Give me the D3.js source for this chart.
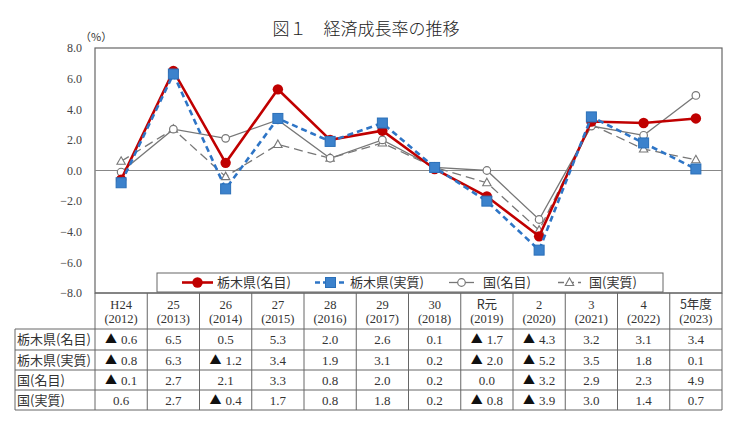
<!DOCTYPE html>
<html>
<head>
<meta charset="utf-8">
<script src="https://cdn.jsdelivr.net/npm/d3@7"></script>
<style>
  body { margin: 0; background: #fff; }
  svg text { font-family: "Liberation Serif", "Noto Sans CJK JP", serif; fill: #333; }
  .jp { font-family: "Noto Sans CJK JP", sans-serif; }
</style>
</head>
<body>
<div id="chart"></div>
<script>
// Fiscal years (column headers: era label / western year)
const eraLabels = ["H24", "25", "26", "27", "28", "29", "30", "R元", "2", "3", "4", "5年度"];
const yearLabels = ["2012", "2013", "2014", "2015", "2016", "2017", "2018", "2019", "2020", "2021", "2022", "2023"];

// Growth rates (%)
const tochigiNominal = [-0.6, 6.5, 0.5, 5.3, 2.0, 2.6, 0.1, -1.7, -4.3, 3.2, 3.1, 3.4];
const tochigiReal    = [-0.8, 6.3, -1.2, 3.4, 1.9, 3.1, 0.2, -2.0, -5.2, 3.5, 1.8, 0.1];
const japanNominal   = [-0.1, 2.7, 2.1, 3.3, 0.8, 2.0, 0.2, 0.0, -3.2, 2.9, 2.3, 4.9];
const japanReal      = [0.6, 2.7, -0.4, 1.7, 0.8, 1.8, 0.2, -0.8, -3.9, 3.0, 1.4, 0.7];

const seriesNames = ["栃木県(名目)", "栃木県(実質)", "国(名目)", "国(実質)"];
const yTicks = [-8, -6, -4, -2, 0, 2, 4, 6, 8];

const width = 752, height = 426;
const plot = { left: 95, right: 722, top: 48, bottom: 293 };

const svg = d3.select("#chart").append("svg")
    .attr("width", width)
    .attr("height", height);

const x = d3.scaleBand()
    .domain(eraLabels)
    .range([plot.left, plot.right]);
const cx = i => x(eraLabels[i]) + x.bandwidth() / 2;

const y = d3.scaleLinear()
    .domain([-8, 8])
    .range([plot.bottom, plot.top]);

// Title
svg.append("text")
    .attr("class", "jp")
    .attr("x", 366)
    .attr("y", 35)
    .attr("text-anchor", "middle")
    .style("font-size", "17px")
    .style("font-weight", "300")
    .style("fill", "#222")
    .text("図１　経済成長率の推移");

svg.append("text")
    .attr("class", "jp")
    .attr("x", 80)
    .attr("y", 41)
    .style("font-size", "11px")
    .text("（%）");

// Y axis
const yAxis = svg.append("g")
    .attr("transform", `translate(${plot.left},0)`)
    .call(d3.axisLeft(y).tickValues(yTicks).tickSize(0).tickPadding(13).tickFormat(d3.format(".1f")));
yAxis.select(".domain").remove();
yAxis.selectAll("text")
    .style("font-size", "12px")
    .style("fill", "#444")
    .style("font-family", "Liberation Serif, serif");

// Plot frame and zero line
svg.append("rect")
    .attr("x", plot.left)
    .attr("y", plot.top)
    .attr("width", plot.right - plot.left)
    .attr("height", plot.bottom - plot.top)
    .attr("fill", "none")
    .attr("stroke", "#666")
    .attr("stroke-width", 1.2);

svg.append("line")
    .attr("x1", plot.left).attr("x2", plot.right)
    .attr("y1", y(0)).attr("y2", y(0))
    .attr("stroke", "#888")
    .attr("stroke-width", 1);

// Series styling
const styles = [
    { data: tochigiNominal, color: "#c00000", width: 2.6, dash: null, marker: "circle" },
    { data: tochigiReal, color: "#2e75c6", width: 2.6, dash: "6,4", marker: "square" },
    { data: japanNominal, color: "#777", width: 1.3, dash: null, marker: "ocircle" },
    { data: japanReal, color: "#777", width: 1.3, dash: "9,5", marker: "triangle" }
];

function drawMarker(g, type, color, px, py) {
    if (type === "circle") {
        g.append("circle").attr("cx", px).attr("cy", py).attr("r", 5.2)
            .attr("fill", color);
    } else if (type === "square") {
        g.append("rect").attr("x", px - 5).attr("y", py - 5).attr("width", 10).attr("height", 10)
            .attr("fill", "#3c82cc").attr("stroke", "#2a6fb8").attr("stroke-width", 1);
    } else if (type === "ocircle") {
        g.append("circle").attr("cx", px).attr("cy", py).attr("r", 3.8)
            .attr("fill", "#fff").attr("stroke", color).attr("stroke-width", 1.2);
    } else {
        g.append("path")
            .attr("d", `M${px},${py - 4.5}L${px + 4.2},${py + 3}L${px - 4.2},${py + 3}Z`)
            .attr("fill", "#fff").attr("stroke", color).attr("stroke-width", 1.1);
    }
}

const line = d3.line()
    .x((d, i) => cx(i))
    .y(d => y(d));

const drawOrder = [3, 2, 0, 1];
drawOrder.forEach(k => {
    const s = styles[k];
    const g = svg.append("g");
    g.append("path")
        .datum(s.data)
        .attr("d", line)
        .attr("fill", "none")
        .attr("stroke", s.color)
        .attr("stroke-width", s.width)
        .attr("stroke-dasharray", s.dash);
    s.data.forEach((v, i) => drawMarker(g, s.marker, s.color, cx(i), y(v)));
});

// Legend
const legend = svg.append("g");
legend.append("rect")
    .attr("x", 157).attr("y", 273)
    .attr("width", 506).attr("height", 19)
    .attr("fill", "#fff")
    .attr("stroke", "#666")
    .attr("stroke-width", 1);

const legendItems = [
    { x1: 182, x2: 213, tx: 217 },
    { x1: 315, x2: 346, tx: 350 },
    { x1: 449, x2: 474, tx: 483 },
    { x1: 558, x2: 581, tx: 589 }
];
legendItems.forEach((it, k) => {
    const s = styles[k];
    const ly = 282.5;
    legend.append("line")
        .attr("x1", it.x1).attr("x2", it.x2)
        .attr("y1", ly).attr("y2", ly)
        .attr("stroke", s.color)
        .attr("stroke-width", s.width)
        .attr("stroke-dasharray", k === 1 ? "5,3" : (k === 3 ? "6,4" : null));
    drawMarker(legend, s.marker, s.color, (it.x1 + it.x2) / 2, ly);
    legend.append("text")
        .attr("class", "jp")
        .attr("x", it.tx)
        .attr("y", ly + 4.5)
        .style("font-size", "13px")
        .style("fill", "#333")
        .text(seriesNames[k]);
});

// Data table
const table = svg.append("g");
const rowTops = [293, 329, 350, 370, 390, 410];
const labelLeft = 15;
const lineColor = "#666";

// horizontal lines
rowTops.forEach((ry, r) => {
    table.append("line")
        .attr("x1", r === 0 ? plot.left : labelLeft).attr("x2", plot.right)
        .attr("y1", ry).attr("y2", ry)
        .attr("stroke", lineColor).attr("stroke-width", 1);
});
// vertical lines
table.append("line")
    .attr("x1", labelLeft).attr("x2", labelLeft)
    .attr("y1", rowTops[1]).attr("y2", rowTops[5])
    .attr("stroke", lineColor);
eraLabels.forEach((c, i) => {
    table.append("line")
        .attr("x1", x(c)).attr("x2", x(c))
        .attr("y1", rowTops[0]).attr("y2", rowTops[5])
        .attr("stroke", lineColor);
});
table.append("line")
    .attr("x1", plot.right).attr("x2", plot.right)
    .attr("y1", rowTops[0]).attr("y2", rowTops[5])
    .attr("stroke", lineColor);

// header
eraLabels.forEach((c, i) => {
    table.append("text")
        .attr("class", /[元年度]/.test(c) ? "jp" : null)
        .attr("x", cx(i)).attr("y", 309)
        .attr("text-anchor", "middle")
        .style("font-size", "12.5px")
        .text(c);
    table.append("text")
        .attr("x", cx(i)).attr("y", 323)
        .attr("text-anchor", "middle")
        .style("font-size", "12.5px")
        .text(`(${yearLabels[i]})`);
});

// rows (negative values shown with ▲)
styles.forEach((s, r) => {
    const mid = (rowTops[r + 1] + rowTops[r + 2]) / 2;
    table.append("text")
        .attr("class", "jp")
        .attr("x", labelLeft + 2)
        .attr("y", mid + 4.5)
        .style("font-size", "13px")
        .text(seriesNames[r]);
    s.data.forEach((v, i) => {
        const t = table.append("text")
            .attr("x", cx(i)).attr("y", mid + 4.5)
            .attr("text-anchor", "middle")
            .style("font-size", "13px");
        if (v < 0) {
            t.append("tspan")
                .attr("class", "jp")
                .style("fill", "#111")
                .style("font-size", "12px")
                .text("▲");
            t.append("tspan")
                .attr("dx", 4)
                .text(Math.abs(v).toFixed(1));
        } else {
            t.text(v.toFixed(1));
        }
    });
});
</script>
</body>
</html>
